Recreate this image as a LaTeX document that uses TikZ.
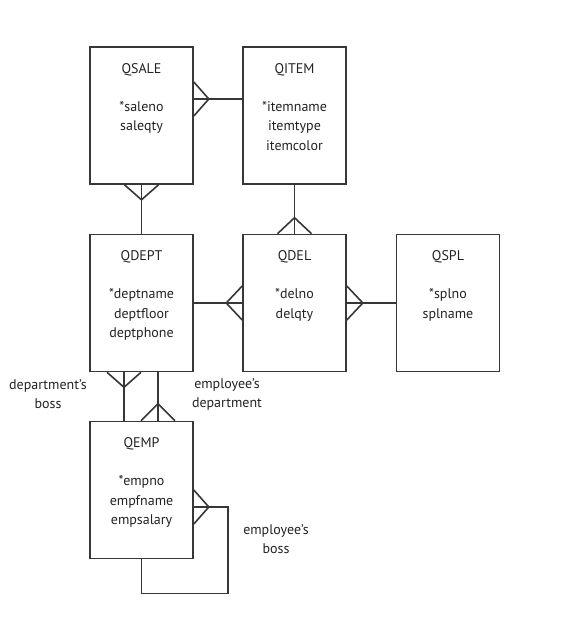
\documentclass[tikz,border=0pt]{standalone}
\usepackage{fontspec}
\setmainfont{PT Sans}
\definecolor{erline}{RGB}{55,55,55}
\definecolor{ertext}{RGB}{35,35,35}
\usetikzlibrary{positioning,calc}

\begin{document}
\begin{tikzpicture}[x=1pt, y=-1pt,
    entity/.style={rectangle, draw=erline, line width=1.6pt, minimum width=103pt,
                   minimum height=137pt, inner sep=0pt},
    etext/.style={anchor=north, align=center, text=ertext, inner sep=0pt,
                  font=\fontsize{14}{19.5}\selectfont},
    rlabel/.style={align=center, text=ertext, font=\fontsize{14}{19}\selectfont},
    link/.style={draw=erline, line width=1.6pt}
  ]
    \useasboundingbox[fill=white] (0,0) rectangle (573,631);

    \node[entity] (qsale) at (141.5,115.5) {};
    \node[entity] (qitem) at (294.5,115.5) {};
    \node[entity] (qdept) at (141.5,303) {};
    \node[entity] (qdel)  at (294.5,303) {};
    \node[entity] (qspl)  at (448,303) {};
    \node[entity] (qemp)  at (141.5,490) {};

    \node[etext, below=17pt of qsale.north] {QSALE\\[18.5pt]*saleno\\saleqty};
    \node[etext, below=17pt of qitem.north] {QITEM\\[18.5pt]*itemname\\itemtype\\itemcolor};
    \node[etext, below=17pt of qdept.north] {QDEPT\\[18.5pt]*deptname\\deptfloor\\deptphone};
    \node[etext, below=17pt of qdel.north]  {QDEL\\[18.5pt]*delno\\delqty};
    \node[etext, below=17pt of qspl.north]  {QSPL\\[18.5pt]*splno\\splname};
    \node[etext, below=17pt of qemp.north]  {QEMP\\[18.5pt]*empno\\empfname\\empsalary};

    % relationships
    \draw[link] ($(qsale.east)+(0,-16.5)$) -- ($(qitem.west)+(0,-16.5)$);
    \draw[link] (qsale.south) -- (qdept.north);
    \draw[link] (qitem.south) -- (qdel.north);
    \draw[link] (qdept.east) -- (qdel.west);
    \draw[link] (qdel.east) -- (qspl.west);
    \draw[link] ($(qdept.south)+(-17.5,0)$) -- ($(qemp.north)+(-17.5,0)$);
    \draw[link] ($(qdept.south)+(16.5,0)$) -- ($(qemp.north)+(16.5,0)$);
    \draw[link] (qemp.south) -- ++(0,34) -| ($(qemp.east)+(34,17)$)
      -- ($(qemp.east)+(0,17)$);

    % crow's feet
    \draw[link] ($(qsale.east)+(0,-33.5)$) -- ($(qsale.east)+(15,-16.5)$)
      -- ($(qsale.east)+(0,0.5)$);
    \draw[link] ($(qsale.south)+(-17,0)$) -- ($(qsale.south)+(0,15)$)
      -- ($(qsale.south)+(17,0)$);
    \draw[link] ($(qdel.north)+(-17,0)$) -- ($(qdel.north)+(0,-16)$)
      -- ($(qdel.north)+(17,0)$);
    \draw[link] ($(qdel.west)+(0,-17)$) -- ($(qdel.west)+(-16,0)$)
      -- ($(qdel.west)+(0,17)$);
    \draw[link] ($(qdel.east)+(0,-17)$) -- ($(qdel.east)+(16,0)$)
      -- ($(qdel.east)+(0,17)$);
    \draw[link] ($(qdept.south)+(-34.5,0)$) -- ($(qdept.south)+(-17.5,15)$)
      -- ($(qdept.south)+(-0.5,0)$);
    \draw[link] ($(qemp.north)+(-0.5,0)$) -- ($(qemp.north)+(16.5,-17)$)
      -- ($(qemp.north)+(33.5,0)$);
    \draw[link] ($(qemp.east)+(0,0)$) -- ($(qemp.east)+(15,17)$)
      -- ($(qemp.east)+(0,34)$);

    % role names
    \node[rlabel] (deptboss) at (48,394) {department's\\boss};
    \node[rlabel] (empdept) at (227,394) {employee's\\department};
    \node[rlabel] (empboss) at (276,539) {employee's\\boss};
  \end{tikzpicture}
\end{document}
